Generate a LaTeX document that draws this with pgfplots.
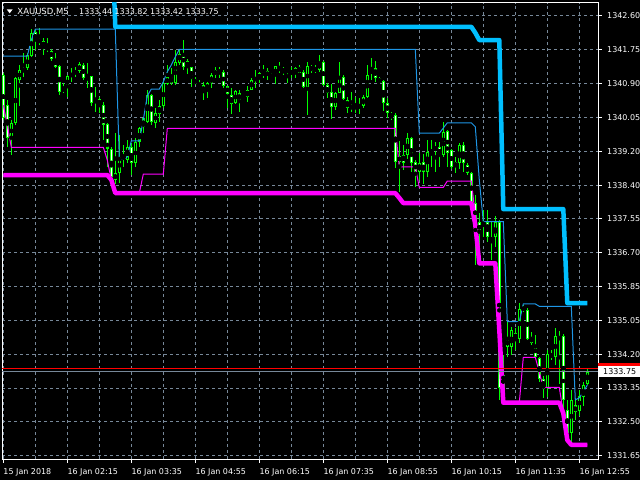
\documentclass[border=0pt]{standalone}
\usepackage{pgfplots}
\pgfplotsset{compat=1.18}
\usepackage{pgfplotstable}
\usepackage{fontspec}
\setmainfont{DejaVu Sans}
\definecolor{candle}{RGB}{0,255,0}
\definecolor{gridc}{RGB}{119,136,153}
\definecolor{cyanthick}{RGB}{0,191,255}
\definecolor{cyanthin}{RGB}{30,150,230}
\definecolor{mag}{RGB}{255,0,255}

\pgfplotstableread{
i o h l c
0 1341.13 1341.18 1340.01 1340.06
1 1340.38 1340.51 1339.34 1339.56
2 1339.56 1340.01 1339.14 1339.94
3 1339.94 1341.08 1339.89 1341.06
4 1341.01 1341.38 1340.38 1341.26
5 1341.21 1341.68 1341.08 1341.31
6 1341.31 1341.68 1341.26 1341.63
7 1341.63 1342.28 1341.58 1342.20
8 1342.20 1342.28 1341.75 1342.00
9 1342.03 1342.30 1341.88 1341.95
10 1342.00 1342.05 1341.63 1341.83
11 1341.83 1342.05 1341.70 1341.78
12 1341.75 1341.80 1341.50 1341.55
13 1341.55 1341.68 1341.31 1341.33
14 1341.36 1341.38 1340.63 1340.71
15 1340.73 1340.93 1340.68 1340.83
16 1340.83 1341.13 1340.58 1341.11
17 1341.08 1341.31 1340.96 1341.18
18 1341.16 1341.33 1341.08 1341.26
19 1341.23 1341.45 1341.18 1341.40
20 1341.38 1341.43 1341.01 1341.06
21 1341.08 1341.43 1340.81 1341.03
22 1341.11 1341.13 1340.38 1340.46
23 1340.46 1340.83 1340.21 1340.53
24 1340.53 1340.58 1340.18 1340.38
25 1340.38 1340.46 1339.51 1339.89
26 1339.91 1339.94 1338.84 1339.31
27 1339.31 1339.34 1338.44 1338.59
28 1338.52 1339.69 1338.44 1338.69
29 1338.69 1339.64 1338.44 1339.09
30 1339.11 1339.39 1338.84 1339.06
31 1339.01 1339.51 1338.94 1339.34
32 1339.34 1339.44 1338.64 1338.94
33 1338.94 1339.56 1338.84 1339.46
34 1339.46 1339.84 1339.34 1339.81
35 1339.84 1340.09 1339.69 1340.06
36 1339.96 1340.76 1339.94 1340.63
37 1340.63 1340.68 1339.89 1339.96
38 1339.94 1340.33 1339.81 1340.18
39 1340.18 1340.51 1339.96 1340.38
40 1340.36 1341.01 1340.31 1340.93
41 1340.91 1341.38 1340.88 1341.08
42 1341.08 1341.31 1340.88 1340.93
43 1340.93 1341.75 1340.88 1341.45
44 1341.45 1341.80 1341.38 1341.68
45 1341.68 1342.00 1341.26 1341.36
46 1341.48 1341.55 1341.18 1341.33
47 1341.33 1341.33 1340.83 1341.03
48 1341.03 1341.08 1340.88 1340.93
49 1340.93 1341.01 1340.81 1340.83
50 1340.88 1340.96 1340.51 1340.71
51 1340.76 1340.96 1340.58 1340.93
52 1340.93 1341.18 1340.81 1341.13
53 1341.13 1341.33 1341.06 1341.26
54 1341.26 1341.33 1341.06 1341.18
55 1341.21 1341.26 1340.83 1340.86
56 1340.86 1340.88 1340.33 1340.66
57 1340.63 1340.81 1340.18 1340.43
58 1340.43 1340.78 1340.43 1340.73
59 1340.68 1340.76 1340.21 1340.51
60 1340.53 1340.63 1340.51 1340.63
61 1340.61 1340.86 1340.46 1340.78
62 1340.76 1341.06 1340.76 1341.03
63 1341.01 1341.26 1340.83 1341.06
64 1341.03 1341.21 1340.93 1341.18
65 1341.13 1341.38 1341.06 1341.23
66 1341.23 1341.31 1341.01 1341.11
67 1341.13 1341.18 1341.06 1341.11
68 1341.11 1341.38 1340.93 1341.36
69 1341.33 1341.45 1341.18 1341.23
70 1341.31 1341.33 1341.13 1341.21
71 1341.26 1341.26 1340.93 1341.21
72 1341.16 1341.33 1341.06 1341.23
73 1341.16 1341.33 1341.06 1341.33
74 1341.18 1341.38 1341.18 1341.33
75 1341.21 1341.26 1340.81 1340.83
76 1340.83 1341.45 1340.13 1341.36
77 1341.36 1341.38 1341.18 1341.23
78 1341.31 1341.38 1341.18 1341.23
79 1341.26 1341.63 1341.21 1341.45
80 1341.45 1341.50 1340.86 1340.88
81 1340.88 1340.93 1340.56 1340.68
82 1340.71 1340.93 1340.06 1340.33
83 1340.33 1340.71 1340.26 1340.68
84 1340.68 1341.45 1340.68 1341.08
85 1341.08 1341.13 1340.51 1340.53
86 1340.53 1340.58 1340.18 1340.33
87 1340.36 1340.71 1340.21 1340.33
88 1340.33 1340.58 1340.18 1340.36
89 1340.33 1340.56 1340.18 1340.38
90 1340.36 1340.63 1340.33 1340.58
91 1340.58 1341.38 1340.56 1341.13
92 1341.18 1341.55 1341.01 1341.28
93 1341.31 1341.50 1340.96 1341.06
94 1340.93 1341.08 1340.93 1341.06
95 1340.98 1341.01 1340.26 1340.43
96 1340.43 1340.58 1340.08 1340.18
97 1340.08 1340.21 1340.01 1340.18
98 1340.13 1340.18 1338.81 1338.96
99 1338.96 1339.51 1338.22 1339.11
100 1339.14 1339.39 1338.76 1338.94
101 1339.14 1339.71 1339.06 1339.56
102 1339.56 1339.59 1338.72 1338.94
103 1338.96 1339.01 1338.34 1338.72
104 1338.72 1339.19 1338.52 1338.94
105 1338.96 1339.19 1338.44 1338.72
106 1338.72 1339.51 1338.59 1339.21
107 1339.21 1339.51 1338.84 1339.26
108 1339.26 1339.46 1338.72 1339.34
109 1339.34 1339.46 1338.84 1339.14
110 1339.14 1339.96 1339.09 1339.71
111 1339.74 1339.76 1338.84 1339.19
112 1339.26 1339.31 1338.81 1338.84
113 1338.84 1339.09 1338.69 1338.96
114 1338.96 1339.44 1338.81 1339.41
115 1339.41 1339.46 1338.72 1338.96
116 1338.89 1338.94 1338.64 1338.69
117 1338.69 1338.72 1337.89 1337.97
118 1337.97 1338.14 1336.40 1337.47
119 1337.47 1337.72 1336.77 1337.22
120 1337.35 1337.77 1337.10 1337.47
121 1337.47 1337.77 1336.97 1337.10
122 1337.10 1337.47 1336.52 1337.00
123 1337.10 1337.64 1336.85 1337.47
124 1337.47 1337.52 1333.04 1333.34
125 1333.34 1334.16 1333.04 1333.66
126 1334.36 1335.03 1334.11 1334.56
127 1334.36 1334.85 1334.16 1334.78
128 1334.71 1334.83 1334.28 1334.56
129 1334.56 1335.45 1334.46 1335.33
130 1335.28 1335.40 1335.23 1335.35
131 1335.30 1335.33 1334.53 1334.56
132 1334.61 1334.73 1334.41 1334.46
133 1334.41 1334.66 1334.08 1334.11
134 1334.08 1334.11 1333.49 1333.56
135 1333.56 1333.66 1333.11 1333.36
136 1333.36 1334.28 1333.11 1334.21
137 1334.21 1334.28 1334.03 1334.11
138 1334.11 1334.83 1333.91 1334.63
139 1334.63 1334.78 1333.46 1334.53
140 1334.63 1334.70 1332.34 1333.04
141 1332.79 1333.04 1332.04 1332.22
142 1332.22 1333.29 1331.97 1333.04
143 1332.91 1333.09 1332.54 1332.74
144 1332.79 1333.29 1332.66 1333.16
145 1333.11 1333.49 1332.91 1333.41
146 1333.44 1333.82 1333.42 1333.75
}\candles

\pgfplotstableread{
i v
0 1341.60
6 1341.60
7 1342.00
8 1342.27
28 1342.27
29 1339.04
30 1339.04
31 1339.09
32 1339.49
34 1339.49
35 1340.01
36 1340.61
37 1340.78
39 1340.78
40 1340.96
41 1341.21
42 1341.38
43 1341.58
44 1341.77
103 1341.77
104 1339.68
109 1339.68
110 1339.81
111 1339.94
117 1339.94
118 1339.84
119 1338.52
120 1337.48
125 1337.48
126 1334.99
129 1334.99
130 1335.43
133 1335.43
134 1335.37
142 1335.37
143 1333.04
144 1333.09
145 1333.24
146 1333.41
}\thincyan

\pgfplotstableread{
i v
0 1340.38
1 1339.89
2 1339.33
25 1339.33
26 1339.01
27 1338.52
28 1338.19
34 1338.19
35 1338.66
40 1338.66
41 1339.80
98 1339.80
99 1338.84
103 1338.84
104 1338.33
110 1338.33
111 1338.49
117 1338.49
118 1337.64
119 1336.44
123 1336.44
124 1334.28
125 1332.97
129 1332.97
130 1334.10
133 1334.10
134 1333.73
135 1333.35
139 1333.35
140 1332.71
141 1332.04
142 1331.92
146 1331.92
}\thinmag

\pgfplotstableread{
i v
26 1345.00
27 1345.00
28 1342.33
117 1342.33
118 1342.18
119 1342.00
124 1342.00
125 1337.79
140 1337.79
141 1335.45
146 1335.45
}\thickcyan

\pgfplotstableread{
i v
0 1338.64
26 1338.64
27 1338.52
28 1338.19
98 1338.19
99 1338.07
100 1337.94
117 1337.94
118 1337.40
119 1336.44
123 1336.44
124 1334.78
125 1332.97
139 1332.97
140 1332.71
141 1332.04
142 1331.92
146 1331.92
}\thickmag

\begin{document}
\begin{tikzpicture}
\fill[black] (-2bp,-21bp) rectangle (638bp,459bp);
\useasboundingbox (-2bp,-21bp) rectangle (638bp,459bp);
\begin{axis}[
  at={(0bp,0bp)}, anchor=south west,
  scale only axis, width=596bp, height=456.3bp,
  xmin=-0.325, xmax=148.675, ymin=1331.568, ymax=1342.931,
  axis line style={white, line width=1bp},
  xtick={0,16,...,144},
  xticklabels={15 Jan 2018,16 Jan 02:15,16 Jan 03:35,16 Jan 04:55,16 Jan 06:15,16 Jan 07:35,16 Jan 08:55,16 Jan 10:15,16 Jan 11:35,16 Jan 12:55},
  minor x tick num=1,
  ytick={1331.650,1332.492,1333.335,1334.177,1335.019,1335.862,1336.704,1337.546,1338.388,1339.231,1340.073,1340.915,1341.758,1342.600},
  yticklabels={1331.65,1332.50,1333.35,1334.20,1335.05,1335.85,1336.70,1337.55,1338.40,1339.20,1340.05,1340.90,1341.75,1342.60},
  xtick pos=bottom, ytick pos=right, yticklabel pos=right,
  tick align=outside, major tick length=4bp, minor tick length=0pt,
  tick style={white, line width=1bp},
  grid=both,
  major grid style={gridc, line width=1bp, dash pattern=on 3bp off 3bp},
  minor grid style={gridc, line width=1bp, dash pattern=on 3bp off 3bp},
  ticklabel style={font=\fontsize{8}{9.6}\selectfont, text=white, inner sep=0pt},
  xticklabel style={anchor=base west, yshift=-12bp},
  yticklabel style={anchor=west, xshift=5bp},
]
% wicks
\addplot[only marks, mark=none, error bars/.cd, y dir=both, y explicit, error mark=none,
  error bar style={candle, line width=1bp}]
  table[x=i, y expr={(\thisrow{h}+\thisrow{l})/2}, y error expr={(\thisrow{h}-\thisrow{l})/2}] {\candles};
% bodies (outline)
\addplot[only marks, mark=none, error bars/.cd, y dir=both, y explicit, error mark=none,
  error bar style={candle, line width=3bp}]
  table[x=i, y expr={(\thisrow{o}+\thisrow{c})/2}, y error expr={max(abs(\thisrow{o}-\thisrow{c})/2,0.0125)}] {\candles};
% bear fill white
\addplot[only marks, mark=none, error bars/.cd, y dir=both, y explicit, error mark=none,
  error bar style={white, line width=1bp}]
  table[x=i, y expr={(\thisrow{o}+\thisrow{c})/2}, y error expr={max((\thisrow{o}-\thisrow{c})/2-0.0249,0)}] {\candles};
% bull fill black
\addplot[only marks, mark=none, error bars/.cd, y dir=both, y explicit, error mark=none,
  error bar style={black, line width=1bp}]
  table[x=i, y expr={(\thisrow{o}+\thisrow{c})/2}, y error expr={max((\thisrow{c}-\thisrow{o})/2-0.0249,0)}] {\candles};
% indicator lines
\addplot[cyanthin, line width=1bp, mark=none] table[x=i, y=v] {\thincyan};
\addplot[mag, line width=1bp, mark=none] table[x=i, y=v] {\thinmag};
\addplot[cyanthick, line width=4.5bp, line join=round, mark=none] table[x=i, y=v] {\thickcyan};
\addplot[mag, line width=4.5bp, line join=round, mark=none] table[x=i, y=v] {\thickmag};
% bid / ask lines
\addplot[gridc, line width=1bp, mark=none] coordinates {(-0.325,1333.75) (148.675,1333.75)};
\addplot[red, line width=1bp, mark=none] coordinates {(-0.325,1333.82) (148.675,1333.82)};
\coordinate (pl) at (axis cs:148.675,1333.75);
\coordinate (pr) at (axis cs:148.675,1333.82);
\end{axis}
% price labels
\fill[red] ([yshift=-5.5bp]pr) rectangle ([xshift=42bp,yshift=5.5bp]pr);
\fill[white] ([yshift=-5.5bp]pl) rectangle ([xshift=42bp,yshift=5.5bp]pl);
\node[anchor=west, text=black, inner sep=0pt, font=\fontsize{8}{9.6}\selectfont] at ([xshift=5bp]pl) {1333.75};
% header
\fill[white] (4.7bp,449.7bp) -- (10.7bp,449.7bp) -- (7.7bp,445.7bp) -- cycle;
\node[anchor=base west, text=white, inner sep=0pt, font=\fontsize{8.5}{10}\selectfont] at (15.3bp,444.7bp) {XAUUSD,M5};
\node[anchor=base west, text=white, inner sep=0pt, font=\fontsize{8}{9.6}\selectfont] at (77bp,444.7bp) {1333.44 1333.82 1333.42 1333.75};
\end{tikzpicture}
\end{document}
